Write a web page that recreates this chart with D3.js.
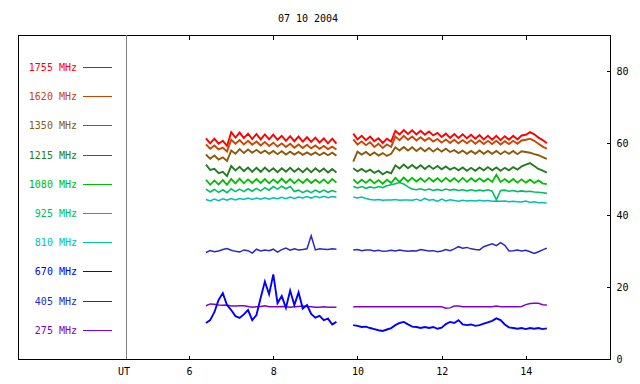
<!DOCTYPE html>
<html>
<head>
<meta charset="utf-8">
<title>07 10 2004</title>
<script src="https://d3js.org/d3.v7.min.js"></script>
<style>
  body { margin: 0; background: #fff; }
  text { font-family: "DejaVu Sans Mono", monospace; font-size: 10px; }
</style>
</head>
<body>
<script>
// ---- data ----
var title = "07 10 2004";
var freqs = ["1755", "1620", "1350", "1215", "1080", "925", "810", "670", "405", "275"];
var colors = ["#ff0000", "#c84600", "#8c5a0a", "#237d23", "#00be00", "#00be64", "#00bebe", "#0000ff", "#2828c8", "#8200c8"];
var widths = [1.9, 1.9, 1.9, 1.9, 1.8, 1.6, 1.5, 1.9, 1.5, 1.5];
var xTicks = [6, 8, 10, 12, 14];
var yTicks = [0, 20, 40, 60, 80];

// sample times (UT hours), step 0.1 h
var times1 = d3.range(64, 96).map(function(d) { return d / 10; });   // 6.4 .. 9.5
var times2 = d3.range(99, 146).map(function(d) { return d / 10; });  // 9.9 .. 14.5

// first block 6.4-9.5 UT
var f1755a = [61.3, 59.9, 61.2, 59.8, 60.6, 59.2, 63.0, 61.5, 62.9, 61.4,
  62.6, 61.1, 62.5, 61.0, 62.4, 61.0, 62.3, 60.9, 62.0, 60.6,
  61.9, 60.5, 61.8, 60.4, 61.6, 60.3, 61.5, 60.1, 61.3, 59.9, 61.2, 59.8];
var f1620a = [59.6, 58.4, 59.3, 58.2, 58.7, 57.6, 60.9, 59.8, 60.8, 59.6,
  60.6, 59.5, 60.4, 59.3, 60.3, 59.2, 60.1, 59.0, 59.9, 58.9,
  59.8, 58.7, 59.6, 58.6, 59.5, 58.5, 59.3, 58.4, 59.2, 58.3, 59.0, 58.2];
var f1350a = [56.8, 55.6, 56.5, 55.4, 56.0, 55.0, 57.9, 57.0, 58.3, 57.2,
  58.2, 57.3, 58.1, 57.2, 57.9, 57.0, 57.8, 56.9, 57.7, 56.8,
  57.6, 56.8, 57.5, 56.7, 57.4, 56.7, 57.4, 56.6, 57.3, 56.6, 57.3, 56.5];
var f1215a = [54.0, 52.5, 52.8, 51.6, 52.0, 50.8, 53.6, 52.4, 53.4, 52.2,
  53.2, 52.0, 53.1, 52.0, 53.2, 52.1, 53.0, 51.9, 53.0, 52.0,
  53.1, 52.0, 52.9, 51.9, 53.0, 51.9, 53.0, 52.0, 52.9, 51.8, 52.8, 51.8];
var f1080a = [49.8, 48.4, 49.6, 48.5, 49.7, 48.4, 50.0, 48.8, 50.1, 48.8,
  49.9, 48.9, 50.0, 48.9, 50.0, 48.8, 49.9, 48.9, 50.1, 48.9,
  50.0, 48.8, 49.9, 48.9, 50.0, 48.9, 49.8, 48.9, 49.9, 48.8, 50.0, 49.0];
var f925a = [47.2, 46.4, 47.1, 46.3, 47.0, 46.2, 47.3, 46.5, 47.2, 46.5,
  47.3, 46.6, 47.4, 46.7, 47.6, 46.9, 47.9, 47.2, 48.0, 47.3,
  47.9, 46.5, 46.9, 46.2, 46.8, 46.2, 46.9, 46.3, 46.9, 46.3, 46.8, 46.4];
var f810a = [44.3, 43.9, 44.4, 44.0, 44.5, 44.1, 44.6, 44.2, 44.6, 44.3,
  44.7, 44.3, 44.7, 44.4, 44.8, 44.4, 44.8, 44.5, 44.9, 44.5,
  45.0, 44.6, 45.0, 44.7, 45.1, 44.7, 45.2, 44.8, 45.2, 44.8, 45.1, 44.9];
var f670a = [10.0, 10.8, 13.0, 16.4, 18.3, 15.0, 13.6, 11.9, 11.4, 12.4,
  13.6, 10.8, 12.2, 17.0, 21.5, 18.0, 23.5, 15.5, 17.5, 14.2,
  19.0, 15.0, 18.5, 14.0, 15.0, 12.5, 11.5, 12.0, 10.8, 11.2, 9.6, 10.3];
var f405a = [29.6, 30.1, 29.8, 30.0, 30.4, 30.7, 30.2, 29.9, 29.7, 30.3,
  30.1, 29.4, 30.5, 30.0, 30.3, 30.1, 30.5, 29.7, 30.4, 30.8,
  30.2, 30.6, 30.3, 30.4, 30.6, 34.2, 30.3, 30.6, 30.5, 30.4, 30.6, 30.5];
var f275a = [14.8, 15.3, 15.2, 15.0, 14.9, 15.0, 14.7, 14.7, 14.8, 14.8,
  14.6, 14.4, 14.5, 14.6, 14.8, 14.5, 14.5, 14.5, 14.6, 14.5,
  14.4, 14.5, 14.6, 14.7, 14.6, 14.5, 14.4, 14.4, 14.5, 14.4, 14.4, 14.4];

// second block 9.9-14.5 UT
var f1755b = [62.6, 61.0, 62.0, 60.8, 61.8, 60.5, 61.3, 60.0, 61.2, 60.4,
  63.4, 62.4, 63.6, 62.5, 63.5, 62.4, 63.4, 62.3, 63.2, 62.1,
  62.8, 61.7, 62.6, 61.4, 62.5, 61.4, 62.4, 61.3, 62.3, 61.2,
  62.2, 61.0, 62.0, 60.9, 62.0, 60.8, 61.9, 60.9, 62.0, 61.0,
  62.1, 62.3, 63.0, 62.4, 61.5, 60.8, 59.9];
var f1620b = [61.0, 59.6, 60.4, 59.4, 60.2, 58.9, 59.8, 58.6, 59.6, 58.9,
  61.8, 60.8, 62.0, 60.9, 61.8, 60.7, 61.6, 60.6, 61.4, 60.4,
  61.1, 60.1, 61.0, 60.0, 60.9, 59.9, 60.8, 59.9, 60.8, 59.8,
  60.7, 59.7, 60.6, 59.7, 60.6, 59.6, 60.5, 59.7, 60.6, 59.8,
  60.7, 60.9, 61.2, 60.6, 59.8, 59.0, 58.4];
var f1350b = [54.8, 57.6, 56.8, 57.5, 56.6, 57.4, 56.5, 57.2, 56.4, 57.0,
  58.8, 57.9, 58.9, 57.9, 58.8, 57.8, 58.7, 57.7, 58.6, 57.6,
  58.5, 57.6, 58.4, 57.5, 58.0, 57.2, 57.9, 57.0, 57.8, 57.0,
  57.9, 57.0, 57.8, 57.0, 57.8, 56.9, 57.7, 57.0, 57.8, 56.9,
  57.7, 57.5, 57.3, 56.9, 56.6, 56.1, 55.6];
var f1215b = [53.0, 52.1, 52.8, 52.0, 52.6, 51.7, 52.3, 51.3, 52.0, 51.6,
  53.8, 52.9, 54.0, 53.0, 53.9, 52.9, 53.8, 52.8, 53.7, 52.8,
  53.6, 52.7, 53.5, 52.6, 53.2, 52.4, 53.2, 52.3, 53.1, 52.3,
  53.2, 52.4, 53.3, 52.4, 53.2, 52.3, 53.1, 52.4, 53.3, 52.6,
  53.5, 54.0, 54.4, 53.6, 52.8, 52.3, 51.8];
var f1080b = [49.9, 48.8, 49.8, 48.9, 49.9, 48.8, 49.7, 48.7, 49.8, 48.9,
  50.3, 49.2, 50.4, 49.3, 50.3, 49.3, 50.2, 49.2, 50.3, 49.3,
  50.2, 49.2, 50.3, 49.3, 50.2, 49.2, 50.3, 49.2, 50.2, 49.3,
  50.2, 49.3, 50.1, 49.2, 51.2, 49.2, 50.0, 49.1, 50.0, 49.0,
  49.9, 49.0, 49.8, 48.9, 49.6, 48.8, 48.6];
var f925b = [47.9, 47.5, 47.9, 47.4, 47.8, 47.5, 47.9, 47.6, 48.1, 48.4,
  48.7, 49.0, 48.6, 47.8, 47.2, 47.0, 47.3, 46.9, 47.2, 46.8,
  47.1, 46.8, 47.2, 46.9, 47.1, 46.8, 47.0, 46.7, 47.0, 46.7,
  46.9, 46.7, 47.0, 46.6, 44.2, 46.8, 46.9, 46.6, 46.8, 46.5,
  46.7, 46.5, 46.6, 46.4, 46.3, 46.2, 46.0];
var f810b = [45.0, 44.7, 45.0, 44.6, 44.3, 44.2, 44.3, 44.1, 44.2, 44.2,
  44.3, 44.1, 44.2, 44.2, 44.1, 44.4, 44.0, 44.6, 44.1, 44.3,
  43.8, 44.4, 43.9, 44.2, 44.0, 43.8, 44.1, 43.9, 44.0, 43.9,
  44.1, 43.9, 44.0, 43.8, 43.9, 43.8, 43.9, 43.7, 43.8, 43.7,
  43.6, 43.9, 43.5, 43.7, 43.4, 43.5, 43.3];
var f670b = [9.4, 9.2, 8.9, 9.0, 8.6, 8.3, 8.0, 7.8, 8.2, 8.6,
  9.4, 10.0, 10.3, 9.6, 9.0, 8.9, 8.6, 8.9, 8.6, 8.9,
  8.4, 8.7, 9.7, 10.3, 10.0, 10.8, 9.6, 9.4, 9.6, 9.2,
  9.4, 9.8, 10.2, 10.6, 11.3, 10.8, 9.6, 8.8, 8.6, 8.4,
  8.6, 8.3, 8.6, 8.4, 8.6, 8.3, 8.5];
var f405b = [30.3, 30.4, 30.1, 30.3, 30.3, 30.0, 30.2, 29.9, 30.0, 30.2,
  30.0, 30.3, 30.1, 29.9, 30.1, 30.0, 30.4, 30.2, 30.0, 30.1,
  29.8, 30.0, 30.4, 30.1, 30.6, 31.2, 30.8, 31.0, 30.6, 30.4,
  30.3, 31.2, 31.6, 32.0, 31.5, 32.3, 31.6, 30.0, 30.1, 30.3,
  30.0, 30.2, 29.8, 29.3, 29.8, 30.3, 30.8];
var f275b = [14.5, 14.5, 14.5, 14.5, 14.5, 14.5, 14.5, 14.5, 14.5, 14.5,
  14.5, 14.5, 14.5, 14.5, 14.5, 14.5, 14.5, 14.5, 14.5, 14.5,
  14.5, 14.5, 14.1, 14.2, 14.7, 14.7, 14.5, 14.5, 14.5, 14.5,
  14.5, 14.5, 14.5, 14.5, 14.7, 14.5, 14.5, 14.5, 14.5, 14.5,
  14.6, 15.1, 15.4, 15.5, 15.5, 15.1, 15.0];

var block1 = [f1755a, f1620a, f1350a, f1215a, f1080a, f925a, f810a, f670a, f405a, f275a];
var block2 = [f1755b, f1620b, f1350b, f1215b, f1080b, f925b, f810b, f670b, f405b, f275b];

// ---- layout ----
var width = 640, height = 384;
var frameL = 18, splitX = 126, frameR = 610, frameT = 35, frameB = 359;

var svg = d3.select("body").append("svg")
  .attr("width", width).attr("height", height);

var x = d3.scaleLinear().domain([4.5, 16]).range([splitX, frameR]);
var y = d3.scaleLinear().domain([0, 90]).range([frameB, frameT]);

// title
svg.append("text").attr("x", 308).attr("y", 22)
  .attr("text-anchor", "middle").attr("fill", "#000").text(title);

// series, drawn low frequency first so 1755 ends on top
var line = d3.line()
  .x(function(d) { return x(d[0]); })
  .y(function(d) { return y(d[1]); });

for (var i = freqs.length - 1; i >= 0; i--) {
  [[times1, block1[i]], [times2, block2[i]]].forEach(function(b) {
    svg.append("path")
      .datum(d3.zip(b[0], b[1]))
      .attr("d", line)
      .attr("fill", "none")
      .attr("stroke", colors[i])
      .attr("stroke-width", widths[i]);
  });
}

// frame
svg.append("rect").attr("x", frameL + 0.5).attr("y", frameT + 0.5)
  .attr("width", frameR - frameL).attr("height", frameB - frameT)
  .attr("fill", "none").attr("stroke", "#000").attr("shape-rendering", "crispEdges");
svg.append("line").attr("x1", splitX + 0.5).attr("x2", splitX + 0.5)
  .attr("y1", frameT).attr("y2", frameB)
  .attr("stroke", "#808080").attr("shape-rendering", "crispEdges");

// axes
var gx = svg.append("g").attr("transform", "translate(0," + (frameB + 0.5) + ")")
  .call(d3.axisBottom(x).tickValues(xTicks).tickSize(-4).tickPadding(8).tickFormat(d3.format("d")));
var gt = svg.append("g").attr("transform", "translate(0," + (frameT + 0.5) + ")")
  .call(d3.axisTop(x).tickValues(xTicks).tickSize(-4).tickFormat(""));
var gy = svg.append("g").attr("transform", "translate(" + (frameR + 0.5) + ",0)")
  .call(d3.axisRight(y).tickValues(yTicks).tickSize(-4).tickPadding(6));
[gx, gt, gy].forEach(function(g) {
  g.select(".domain").remove();
  g.selectAll("line").attr("shape-rendering", "crispEdges");
  g.selectAll("text").attr("font-family", null).attr("font-size", null).attr("fill", "#000");
});

svg.append("text").attr("x", splitX - 2).attr("y", 375)
  .attr("text-anchor", "middle").text("UT");

// legend
var legend = svg.append("g").selectAll("g").data(freqs).enter().append("g")
  .attr("transform", function(d, i) { return "translate(0," + (Math.round(67 + i * 29.2) + 0.5) + ")"; });
legend.append("text").attr("x", 77).attr("y", 3.5)
  .attr("text-anchor", "end")
  .attr("fill", function(d, i) { return colors[i]; })
  .text(function(d) { return d + " MHz"; });
legend.append("line").attr("x1", 83).attr("x2", 112)
  .attr("stroke", function(d) { return colors[freqs.indexOf(d)]; })
  .attr("shape-rendering", "crispEdges");
</script>
</body>
</html>
